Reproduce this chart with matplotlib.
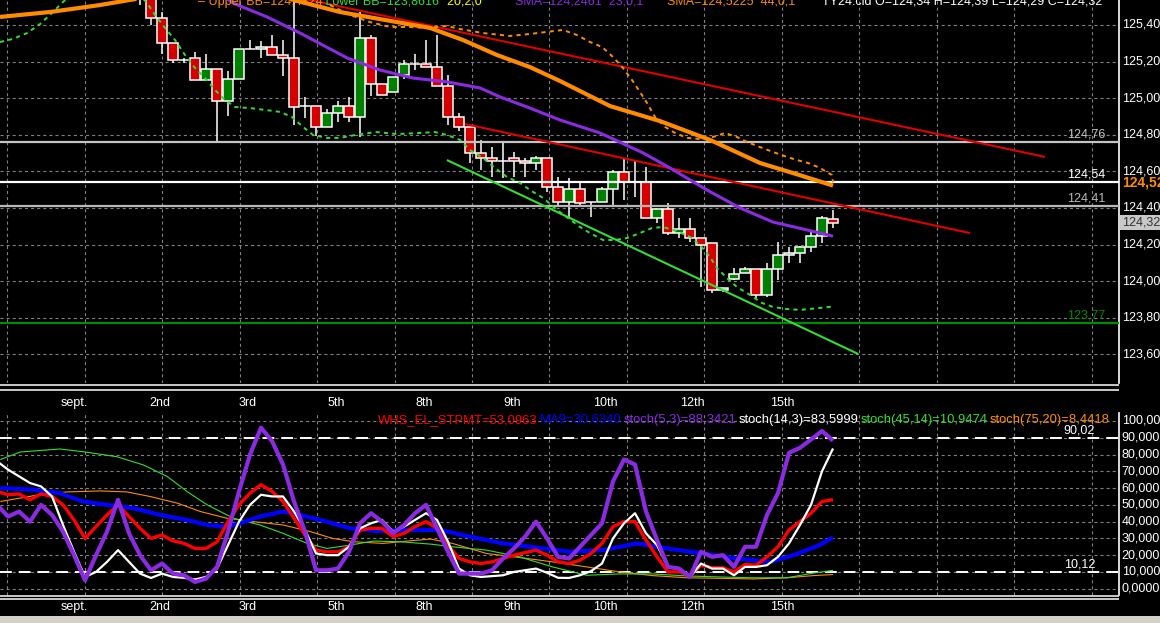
#!/usr/bin/env python3

import numpy as np
import matplotlib
matplotlib.use("Agg")
import matplotlib.pyplot as plt
from matplotlib.lines import Line2D
from matplotlib.patches import Rectangle

plt.rcParams["font.family"] = ["Liberation Sans", "DejaVu Sans"]
plt.rcParams["lines.scale_dashes"] = False
plt.rcParams["lines.solid_capstyle"] = "butt"

# ---------------------------------------------------------------- data
# TY24 bars (index of first bar = -1, only its low wick shows on screen)
first_bar = -1
opens = [125.62, 125.60, 125.44, 125.30, 125.21, 125.22, 125.10, 125.16, 124.985, 125.105,
         125.27, 125.27, 125.28, 125.235, 125.22, 124.955, 124.955, 124.845, 124.92, 124.955,
         124.895, 125.33, 125.08, 125.035, 125.125, 125.185, 125.185, 125.17, 125.065, 124.895,
         124.845, 124.70, 124.675, 124.655, 124.675, 124.655, 124.645, 124.675, 124.515, 124.435,
         124.505, 124.435, 124.435, 124.505, 124.595, 124.54, 124.54, 124.345, 124.395, 124.265,
         124.285, 124.235, 124.21, 123.95, 124.01, 124.045, 124.065, 123.925, 124.065, 124.145,
         124.155, 124.185, 124.245, 124.34]
highs = [125.70, 125.62, 125.47, 125.30, 125.22, 125.25, 125.24, 125.16, 125.15, 125.27,
         125.32, 125.31, 125.345, 125.32, 125.56, 125.005, 124.955, 124.94, 124.985, 125.005,
         125.47, 125.345, 125.08, 125.115, 125.21, 125.24, 125.32, 125.345, 125.125, 124.92,
         124.845, 124.77, 124.735, 124.76, 124.705, 124.675, 124.685, 124.675, 124.57, 124.565,
         124.54, 124.435, 124.515, 124.61, 124.675, 124.66, 124.625, 124.395, 124.425, 124.345,
         124.345, 124.235, 124.21, 123.965, 124.07, 124.08, 124.065, 124.10, 124.215, 124.185,
         124.195, 124.275, 124.355, 124.39]
lows = [125.51, 125.40, 125.24, 125.19, 125.19, 125.10, 125.10, 124.76, 124.90, 125.105,
        125.27, 125.22, 125.235, 125.12, 124.855, 124.89, 124.795, 124.845, 124.87, 124.87,
        124.79, 125.01, 125.02, 125.035, 125.105, 125.155, 125.17, 125.065, 124.855, 124.82,
        124.645, 124.61, 124.57, 124.565, 124.57, 124.57, 124.61, 124.49, 124.41, 124.35,
        124.405, 124.35, 124.435, 124.405, 124.445, 124.46, 124.345, 124.32, 124.25, 124.235,
        124.215, 123.97, 123.935, 123.94, 124.005, 124.045, 123.91, 123.915, 124.005, 124.10,
        124.10, 124.16, 124.21, 124.29]
closes = [125.60, 125.44, 125.30, 125.21, 125.21, 125.10, 125.16, 124.985, 125.105, 125.27,
          125.27, 125.28, 125.235, 125.22, 124.95, 124.955, 124.845, 124.92, 124.955, 124.895,
          125.33, 125.08, 125.02, 125.115, 125.185, 125.185, 125.17, 125.065, 124.895, 124.845,
          124.70, 124.675, 124.655, 124.655, 124.655, 124.645, 124.675, 124.515, 124.435, 124.505,
          124.43, 124.435, 124.505, 124.595, 124.54, 124.54, 124.345, 124.395, 124.265, 124.285,
          124.235, 124.20, 123.95, 123.965, 124.04, 124.065, 123.925, 124.065, 124.145, 124.155,
          124.185, 124.245, 124.345, 124.32]

# moving averages and Bollinger bands (bar index, price)
sma44_bars = [-13.73, -9.18, -4.64, -1.91, 1.73, 7.18, 12.64, 17.18, 22.36, 25.36,
              28.36, 31.45, 34.45, 37.18, 41.73, 46.27, 50.82, 55.36, 58.36, 62.0]
sma44_vals = [125.444, 125.471, 125.509, 125.537, 125.569, 125.580, 125.542, 125.471, 125.416, 125.384,
              125.318, 125.236, 125.170, 125.094, 124.957, 124.875, 124.772, 124.646, 124.591, 124.5225]
sma23_bars = [6.73, 7.45, 10.55, 13.55, 17.82, 20.82, 23.82, 26.91, 29.91, 31.73,
              34.45, 37.18, 40.82, 44.73, 47.18, 50.55, 53.55, 56.55, 59.64, 62.0]
sma23_vals = [125.553, 125.520, 125.444, 125.356, 125.220, 125.154, 125.110, 125.089, 125.056, 125.007,
              124.946, 124.881, 124.810, 124.701, 124.619, 124.498, 124.400, 124.323, 124.280, 124.2461]
bb_lo_bars = [-13.73, -12.55, -11.27, -10.09, -9.0, -8.0, -6.91, -1.45, -0.36, 0.36,
              1.27, 2.18, 3.09, 4.0, 4.91, 5.82, 6.73, 7.64, 9.0, 10.36,
              11.73, 12.82, 13.82, 14.73, 16.0, 17.18, 19.0, 20.55, 22.36, 24.45,
              25.82, 26.91, 28.09, 29.0, 30.18, 31.27, 32.36, 33.55, 34.45, 35.64,
              36.91, 37.91, 39.0, 39.91, 41.09, 42.18, 43.27, 44.45, 45.55, 46.55,
              47.82, 49.0, 49.91, 50.82, 51.45, 52.36, 53.27, 54.45, 55.55, 56.55,
              57.82, 59.0, 60.82, 62.0]
bb_lo_vals = [125.307, 125.324, 125.356, 125.405, 125.466, 125.526, 125.580, 125.591, 125.520, 125.455,
              125.384, 125.318, 125.236, 125.165, 125.110, 125.045, 124.990, 124.952, 124.946, 124.936,
              124.925, 124.897, 124.843, 124.799, 124.783, 124.783, 124.804, 124.815, 124.804, 124.810,
              124.815, 124.799, 124.772, 124.717, 124.673, 124.619, 124.569, 124.537, 124.498, 124.455,
              124.389, 124.345, 124.296, 124.263, 124.225, 124.225, 124.236, 124.263, 124.291, 124.296,
              124.274, 124.242, 124.198, 124.132, 124.072, 124.017, 123.968, 123.925, 123.881, 123.859,
              123.848, 123.843, 123.854, 123.8616]
bb_up_bars = [16.27, 18.09, 19.91, 21.73, 23.55, 25.09, 26.91, 28.09, 30.18, 32.64,
              34.45, 37.45, 38.73, 39.91, 41.0, 42.0, 42.91, 43.73, 44.45, 45.09,
              45.82, 46.73, 47.64, 48.73, 49.91, 51.09, 52.18, 53.27, 54.18, 55.36,
              56.55, 57.82, 58.73, 59.73, 60.82, 61.91, 62.0]
bb_up_vals = [125.509, 125.455, 125.416, 125.389, 125.389, 125.384, 125.395, 125.378, 125.356, 125.340,
              125.351, 125.373, 125.345, 125.307, 125.280, 125.225, 125.165, 125.099, 125.034, 124.974,
              124.897, 124.843, 124.810, 124.783, 124.777, 124.788, 124.810, 124.788, 124.761, 124.733,
              124.706, 124.679, 124.662, 124.646, 124.619, 124.580, 124.54]

# trend lines drawn by hand (two end points each)
red_hi_bars, red_hi_vals = [13.55, 81.27], [125.548, 124.679]
red_lo_bars, red_lo_vals = [28.55, 74.45], [124.859, 124.263]
green_tl_bars, green_tl_vals = [26.9, 64.3], [124.662, 123.602]

levels = [124.76, 124.54, 124.41, 123.77]
level_colors = ["#c4c4c4", "#ffffff", "#b8b8b8", "#008c00"]

day_labels = ["sept.", "2nd", "3rd", "5th", "8th", "9th", "10th", "12th", "15th"]
day_bars = [-7.0, 0.8, 8.8, 16.8, 24.8, 32.8, 41.3, 49.2, 57.4]

header = [("\u2013 Upper BB=124,4824", "#ff8c00"), (" Lower BB=123,8616", "#33dd33"),
          ("  20,2,0", "#ffff00")]

# oscillator panel, one value per bar starting at bar -14
osc_first = -14
whs_stpmt = [58, 56, 56.5, 53, 56.5, 55, 50, 41, 30, 37, 44, 50, 43, 36,
             30, 32, 28.5, 27, 24, 24, 28, 40, 50, 57,
             62, 58, 52, 42, 32, 23, 22, 22, 25, 35,
             36, 36, 31, 33, 37, 40, 36, 26, 18, 16,
             15, 16, 18, 20, 21.5, 23, 20, 16, 15, 17,
             21, 27, 37, 40, 40, 29, 19, 10, 10, 8,
             14, 12.5, 12.5, 10, 14.5, 14, 19, 25, 35, 40,
             45, 52, 53.1]
stoch_5_3 = [50, 43, 46, 40, 50, 44, 34, 20, 5, 20, 34, 53, 33, 20,
             11, 15, 9, 8, 4, 6, 13, 34, 58, 80,
             96, 88, 74, 52, 34, 11, 11, 12, 22, 39,
             45, 40, 33, 38, 45, 50, 36, 22, 9, 9,
             9, 11, 18, 24, 31, 40, 30, 19, 18, 25,
             32, 39, 64, 77, 74, 46, 29, 13, 12, 7,
             22, 19, 20, 13, 25, 25, 44, 57, 81, 84,
             89, 94, 88.3]
stoch_14_3 = [76, 71, 67, 63, 61, 55, 38, 22, 7, 10, 16, 23, 16, 9,
              6.4, 9, 7, 6.5, 5.5, 7, 12, 26, 40, 50,
              56, 55, 55, 46, 35, 21, 20, 20, 25, 36,
              39, 41, 34, 37, 41, 45, 41, 28, 12, 8,
              7, 7.5, 8, 10, 11, 12, 9.5, 6.5, 6.4, 8,
              10.5, 15, 30, 39, 45, 33, 26, 13, 12, 7,
              15, 12, 12, 8, 13, 13, 14, 19, 27, 38,
              50, 70, 83.6]
ma9_bars = [-13.7, -10.7, -8.3, -6.2, -4.0, -1.6, 0.8, 3.3, 5.1, 6.9,
            8.1, 9.9, 12.0, 13.5, 15.4, 18.1, 20.5, 22.6, 26.3, 29.0,
            32.0, 35.1, 38.1, 41.1, 44.2, 45.1, 47.2, 50.2, 53.3, 56.3,
            58.4, 60.8, 62.0]
ma9_vals = [60, 59, 57, 52, 50, 48, 44, 41, 38, 37,
            39, 43, 46, 44, 41, 36, 34.4, 35, 35, 31,
            27, 24.5, 22, 23, 27, 26, 23.7, 21, 18, 16,
            20, 26, 30.6]
st45_bars = [-13.7, -11.9, -8.3, -6.2, -3.1, -0.7, 1.5, 3.3, 5.1, 7.5,
             9.9, 12.0, 14.2, 16.0, 18.1, 20.2, 22.6, 25.4, 27.4, 30.5,
             33.5, 36.5, 39.6, 42.6, 45.6, 48.7, 51.7, 54.7, 57.8, 60.2, 62.0]
st45_vals = [77, 81.5, 83.3, 81.7, 78.7, 73.8, 66.8, 57.8, 50, 42,
             38, 33, 27, 24, 26, 28.4, 28, 26.6, 25, 23,
             19, 13, 8, 8.8, 8.8, 7.6, 7, 6.5, 6.5, 9.3, 10.95]
st75_bars = [-13.7, -11.9, -9.8, -7.6, -4.6, -2.2, -0.1, 2.4, 4.5, 6.9,
             9.3, 12.0, 14.5, 16.5, 18.4, 21.1, 23.3, 25.4, 27.4, 30.5,
             33.5, 36.5, 39.6, 42.6, 45.6, 48.7, 51.7, 54.7, 57.8, 60.2, 62.0]
st75_vals = [52, 54, 56.5, 57.7, 58.3, 57.7, 55, 51, 46, 42,
             40, 38, 34, 30, 28, 27, 28.4, 29.6, 27, 21,
             18.6, 16, 13, 10, 7.8, 6.5, 6.2, 5.8, 6.5, 7.8, 8.44]
osc_levels = [90.02, 10.12]
osc_ticks = [0, 10, 20, 30, 40, 50, 60, 70, 80, 90, 100]
osc_tick_labels = ["0,0000", "10,000", "20,000", "30,000", "40,000", "50,000",
                   "60,000", "70,000", "80,000", "90,000", "100,00"]
osc_legend = ["WHS_EL_STPMT=53,0963", "MA9=30,6340", "stoch(5,3)=88,3421",
              "stoch(14,3)=83,5999", "stoch(45,14)=10,9474", "stoch(75,20)=8,4418"]

# ---------------------------------------------------------------- layout
W, H = 1160, 623
FS = 9
ORANGE, PURPLE, GREEN = "#ff8c00", "#8a2be2", "#33dd33"

fig = plt.figure(figsize=(W / 100, H / 100), dpi=100, facecolor="black")


def px_box(x0, y0, x1, y1):
    return [x0 / W, 1 - y1 / H, (x1 - x0) / W, (y1 - y0) / H]


def comma(v):
    return f"{v:.2f}".replace(".", ",")


ax = fig.add_axes(px_box(0, 0, 1119, 383))
lo = fig.add_axes(px_box(0, 413, 1119, 595))

vgrid = -13.06 + 7.04 * np.arange(15)
for a in (ax, lo):
    a.set_facecolor("black")
    a.set_xlim(-13.73, 88.0)
    a.set_xticks([])
    a.set_yticks([])
    for s in ("top", "left", "bottom"):
        a.spines[s].set_visible(False)
    a.spines["right"].set_color("white")
    a.spines["right"].set_linewidth(1.2)
    for g in vgrid:
        a.axvline(g, color="#808080", lw=0.8, dashes=(2.2, 2.2), zorder=1)

ax.set_ylim(123.4437, 125.5366)
lo.set_ylim(-3.76, 104.76)

# ---------------------------------------------------------------- price panel
price_ticks = np.round(np.arange(123.6, 125.41, 0.2), 2)
for v in price_ticks:
    ax.axhline(v, color="#808080", lw=0.8, dashes=(2.2, 2.2), zorder=1)
    ax.annotate(comma(v), xy=(1, v), xycoords=("axes fraction", "data"),
                xytext=(2, 0), textcoords="offset points", va="center", ha="left",
                color="white", fontsize=FS, annotation_clip=False)

bars = np.arange(first_bar, first_bar + len(opens))
o, h, l, c = (np.array(v) for v in (opens, highs, lows, closes))
body_col = np.where(c > o, "#008000", "#d40000")
ax.vlines(bars, l, h, color="white", lw=1.1, zorder=3)
ax.bar(bars, c - o, bottom=o, width=0.95, color=body_col, edgecolor="white",
       linewidth=1.1, zorder=4)

for v, col in zip(levels, level_colors):
    ax.axhline(v, color=col, lw=1.6, zorder=5)
    ax.annotate(comma(v), xy=(1105 / 1119, v), xycoords=("axes fraction", "data"),
                xytext=(0, 1.5), textcoords="offset points", ha="right", va="bottom",
                color=col, fontsize=FS)

ax.plot(red_hi_bars, red_hi_vals, color="#e00000", lw=1.5, zorder=6)
ax.plot(red_lo_bars, red_lo_vals, color="#e00000", lw=1.5, zorder=6)
ax.plot(green_tl_bars, green_tl_vals, color=GREEN, lw=1.5, zorder=6)
ax.plot(bb_up_bars, bb_up_vals, color=ORANGE, lw=1.4, dashes=(3, 3), zorder=6)
ax.plot(bb_lo_bars, bb_lo_vals, color=GREEN, lw=1.4, dashes=(3, 3), zorder=6)
ax.plot(sma23_bars, sma23_vals, color=PURPLE, lw=2.2, zorder=7)
ax.plot(sma44_bars, sma44_vals, color=ORANGE, lw=3.0, zorder=7)

# last values on the price scale
ax.annotate(comma(closes[-1]), xy=(1, closes[-1]), xycoords=("axes fraction", "data"),
            xytext=(2, 0), textcoords="offset points", va="center", ha="left",
            color="#303030", fontsize=FS, annotation_clip=False,
            bbox=dict(boxstyle="square,pad=0.12", fc="#c8c8c8", ec="none"))
ax.annotate(comma(sma44_vals[-1]), xy=(1, sma44_vals[-1]), xycoords=("axes fraction", "data"),
            xytext=(2, 2), textcoords="offset points", va="center", ha="left",
            color=ORANGE, fontsize=FS + 1, fontweight="bold", annotation_clip=False)

for lab, b in zip(day_labels, day_bars):
    ax.annotate(lab, xy=(b, 0), xycoords=("data", "axes fraction"), xytext=(0, -14.4),
                textcoords="offset points", ha="center", va="center", color="white",
                fontsize=FS, annotation_clip=False)
    lo.annotate(lab, xy=(b, 0), xycoords=("data", "axes fraction"), xytext=(0, -8.6),
                textcoords="offset points", ha="center", va="center", color="white",
                fontsize=FS, annotation_clip=False)

# header line, cut by the top edge
ybase = 1 - 5 / H
prev = fig.text(198 / W, ybase, header[0][0], color=header[0][1], fontsize=FS, va="baseline")
for txt, col in header[1:]:
    prev = fig.add_artist(plt.Annotation(txt, xy=(1, 0), xycoords=prev, va="bottom",
                                         color=col, fontsize=FS))
fig.text(515 / W, ybase, "SMA=124,2461  23,0,1", color=PURPLE, fontsize=FS, va="baseline")
fig.text(667 / W, ybase, "SMA=124,5225  44,0,1", color=ORANGE, fontsize=FS, va="baseline")
fig.text(822 / W, ybase, "TY24.cld O=124,34 H=124,39 L=124,29 C=124,32", color="white",
         fontsize=FS, va="baseline")

# ---------------------------------------------------------------- oscillator panel
for v, lab in zip(osc_ticks, osc_tick_labels):
    lo.axhline(v, color="#808080", lw=0.8, dashes=(2.2, 2.2), zorder=1)
    lo.annotate(lab, xy=(1, v), xycoords=("axes fraction", "data"), xytext=(2, 0),
                textcoords="offset points", va="center", ha="left", color="white",
                fontsize=FS, annotation_clip=False)
for v in osc_levels:
    lo.axhline(v, color="white", lw=1.4, dashes=(8.5, 5), zorder=2)
    lo.annotate(comma(v), xy=(1095 / 1119, v), xycoords=("axes fraction", "data"),
                xytext=(0, 1), textcoords="offset points", ha="right", va="bottom",
                color="white", fontsize=FS)

osc_bars = np.arange(osc_first, osc_first + len(stoch_5_3))
lo.plot(st75_bars, st75_vals, color=ORANGE, lw=0.8, zorder=3)
lo.plot(st45_bars, st45_vals, color=GREEN, lw=0.8, zorder=3)
lo.plot(ma9_bars, ma9_vals, color="#0000ff", lw=3.0, zorder=4)
lo.plot(osc_bars, whs_stpmt, color="#ff0000", lw=2.4, zorder=5)
lo.plot(osc_bars, stoch_14_3, color="white", lw=1.6, zorder=6)
lo.plot(osc_bars, stoch_5_3, color=PURPLE, lw=3.0, zorder=7)

leg_cols = ["#ff0000", "#0000ff", PURPLE, "white", GREEN, ORANGE]
LFS = 9.35
prev = lo.annotate(osc_legend[0], xy=(378 / 1119, 100.6), xycoords=("axes fraction", "data"),
                   va="center", ha="left", color=leg_cols[0], fontsize=LFS, zorder=8)
for txt, col in zip(osc_legend[1:], leg_cols[1:]):
    prev = lo.annotate(txt, xy=(1, 0.5), xycoords=prev, xytext=(1.5, 0),
                       textcoords="offset points", va="center", ha="left",
                       color=col, fontsize=LFS, zorder=8)

# ---------------------------------------------------------------- frame lines
for ypx in (385, 390, 596, 599):
    fig.add_artist(Line2D([0, 1119 / W], [1 - ypx / H] * 2, transform=fig.transFigure,
                          color="white", lw=1.1))
fig.add_artist(Rectangle((0, 0), 1, 7 / H, transform=fig.transFigure,
                         facecolor="#d4d0c8", edgecolor="none"))

fig.savefig("out.png", dpi=100, facecolor="black")
